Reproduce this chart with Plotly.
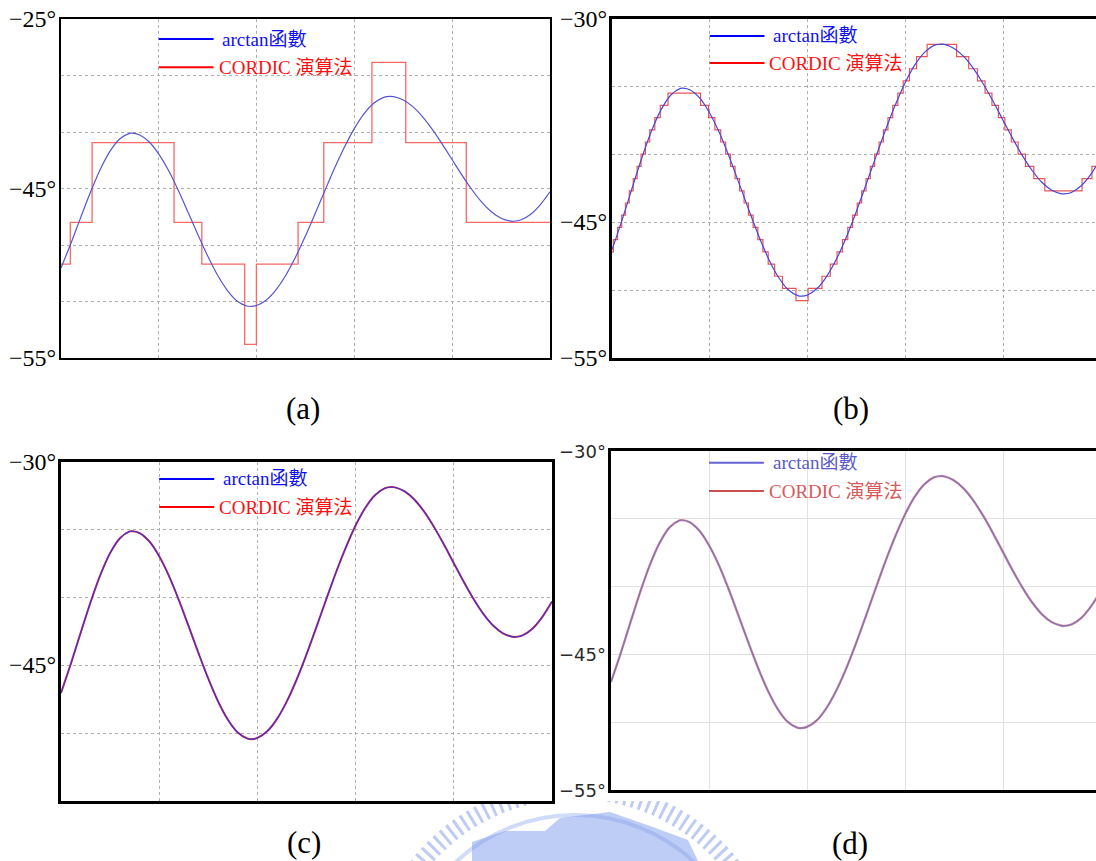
import plotly.graph_objects as go

# ---------------- data ----------------
# arctan reference curve: x in grid units (5 vertical grid cells), value in degrees
ARC_U = [0.0, 0.1, 0.2, 0.3, 0.4, 0.5, 0.6, 0.7, 0.726, 0.8, 0.9, 1.0, 1.1, 1.2, 1.3,
         1.4, 1.5, 1.6, 1.7, 1.8, 1.9, 1.94, 2.0, 2.1, 2.2, 2.3, 2.4, 2.5, 2.6, 2.7,
         2.8, 2.9, 3.0, 3.1, 3.2, 3.3, 3.363, 3.4, 3.5, 3.6, 3.7, 3.8, 3.9, 4.0, 4.1,
         4.2, 4.3, 4.4, 4.5, 4.6, 4.625, 4.7, 4.8, 4.9, 5.0]
ARC_DEG = [-47.03, -44.89, -42.60, -40.36, -38.34, -36.72, -35.62, -35.12, -35.10,
           -35.24, -35.86, -36.95, -38.41, -40.18, -42.12, -44.09, -45.98, -47.66,
           -49.01, -49.95, -50.40, -50.44, -50.35, -49.86, -48.94, -47.65, -46.04,
           -44.19, -42.19, -40.15, -38.15, -36.31, -34.68, -33.37, -32.44, -31.93,
           -31.85, -31.87, -32.17, -32.78, -33.68, -34.81, -36.09, -37.46, -38.82,
           -40.09, -41.19, -42.06, -42.63, -42.89, -42.90, -42.79, -42.30, -41.44, -40.29]

# (a) coarse CORDIC staircase
A_STEP_X = [0.0, 0.095, 0.318, 1.156, 1.44, 1.878, 1.998, 2.424, 2.687, 3.179, 3.525, 4.144, 5.0]
A_STEP_DEG = [-46.7, -43.0, -35.94, -43.0, -46.7, -53.8, -46.7, -43.0, -35.94, -28.83,
              -35.94, -43.0, -43.0]

# (b) finer CORDIC staircase
B_STEP_X = [0.0, 0.014, 0.057, 0.099, 0.138, 0.177, 0.217, 0.257, 0.297, 0.342, 0.386,
            0.438, 0.494, 0.573, 0.906, 0.988, 1.053, 1.112, 1.163, 1.212, 1.259, 1.305,
            1.351, 1.396, 1.444, 1.492, 1.544, 1.598, 1.664, 1.744, 1.882, 2.006, 2.148,
            2.233, 2.302, 2.358, 2.412, 2.461, 2.509, 2.554, 2.599, 2.643, 2.687, 2.732,
            2.777, 2.823, 2.872, 2.924, 2.979, 3.043, 3.116, 3.224, 3.525, 3.649, 3.739,
            3.816, 3.887, 3.953, 4.019, 4.085, 4.155, 4.230, 4.315, 4.428, 4.809, 4.910,
            4.989, 5.0]
B_STEP_DEG = [-47.17, -46.27, -45.37, -44.47, -43.57, -42.67, -41.77, -40.87, -39.97, -39.07,
              -38.17, -37.27, -36.37, -35.47,
              -36.37, -37.27, -38.17, -39.07, -39.97, -40.87, -41.77, -42.67, -43.57, -44.47,
              -45.37, -46.27, -47.17, -48.07, -48.97, -49.87, -50.77,
              -49.87, -48.97, -48.07, -47.17, -46.27, -45.37, -44.47, -43.57, -42.67, -41.77,
              -40.87, -39.97, -39.07, -38.17, -37.27, -36.37, -35.47, -34.57, -33.67, -32.77,
              -31.87,
              -32.77, -33.67, -34.57, -35.47, -36.37, -37.27, -38.17, -39.07, -39.97, -40.87,
              -41.77, -42.67,
              -41.77, -40.87, -39.97, -39.97]

# (c), (d) fine CORDIC result: coincides with the arctan curve
C_CORDIC = ARC_DEG
D_CORDIC = ARC_DEG

GRID_X = [1, 2, 3, 4]
A_GRID_Y = [-25, -30, -35, -40, -45, -50, -55]
B_GRID_Y = [-30, -35, -40, -45, -50, -55]
# printed y labels (value position on the axis, text as printed)
A_LABEL_POS = [-25, -40, -55]
A_LABEL_TXT = ["\u221225\u00b0", "\u221245\u00b0", "\u221255\u00b0"]
B_LABEL_POS = [-30, -45, -55]
B_LABEL_TXT = ["\u221230\u00b0", "\u221245\u00b0", "\u221255\u00b0"]
C_LABEL_POS = [-30, -45]
C_LABEL_TXT = ["\u221230\u00b0", "\u221245\u00b0"]

LEG_BLUE = "arctan函數"
LEG_RED = "CORDIC 演算法"
CAPTIONS = ["(a)", "(b)", "(c)", "(d)"]

# ---------------- figure ----------------
W, H = 1096, 861
SERIF = "Liberation Serif, Noto Sans CJK TC, serif"
SANS = "DejaVu Sans, sans-serif"

fig = go.Figure()


def px_x(p):
    return p / W


def px_y(p):
    return 1 - p / H


# panel boxes in pixels: left, right, top, bottom
PANELS = {
    "a": dict(l=61, r=550, t=19, b=358),
    "b": dict(l=612, r=W, t=19, b=358),
    "c": dict(l=61, r=552, t=462, b=801),
    "d": dict(l=611, r=W, t=451, b=790),
}

# traces
fig.add_trace(go.Scatter(x=A_STEP_X, y=A_STEP_DEG, mode="lines", line_shape="hv",
                         line=dict(color="rgb(245,105,105)", width=1.3),
                         xaxis="x", yaxis="y", name=LEG_RED))
fig.add_trace(go.Scatter(x=ARC_U, y=ARC_DEG, mode="lines", line_shape="spline",
                         line=dict(color="rgb(85,85,210)", width=1.2, smoothing=0.8),
                         xaxis="x", yaxis="y", name=LEG_BLUE))

fig.add_trace(go.Scatter(x=B_STEP_X, y=B_STEP_DEG, mode="lines", line_shape="hv",
                         line=dict(color="rgb(235,85,85)", width=1.2),
                         xaxis="x2", yaxis="y2", name=LEG_RED))
fig.add_trace(go.Scatter(x=ARC_U, y=ARC_DEG, mode="lines", line_shape="spline",
                         line=dict(color="rgb(70,70,220)", width=1.2, smoothing=0.8),
                         xaxis="x2", yaxis="y2", name=LEG_BLUE))

fig.add_trace(go.Scatter(x=ARC_U, y=C_CORDIC, mode="lines", line_shape="spline",
                         line=dict(color="rgb(235,60,60)", width=2.0, smoothing=0.8),
                         xaxis="x3", yaxis="y3", name=LEG_RED))
fig.add_trace(go.Scatter(x=ARC_U, y=ARC_DEG, mode="lines", line_shape="spline",
                         line=dict(color="rgba(50,40,220,0.85)", width=1.3, smoothing=0.8),
                         xaxis="x3", yaxis="y3", name=LEG_BLUE))

fig.add_trace(go.Scatter(x=ARC_U, y=D_CORDIC, mode="lines", line_shape="spline",
                         line=dict(color="rgba(200,120,140,0.75)", width=2.4, smoothing=0.8),
                         xaxis="x4", yaxis="y4", name=LEG_RED))
fig.add_trace(go.Scatter(x=ARC_U, y=ARC_DEG, mode="lines", line_shape="spline",
                         line=dict(color="rgba(120,100,175,0.8)", width=1.4, smoothing=0.8),
                         xaxis="x4", yaxis="y4", name=LEG_BLUE))


def xaxis(p, rng, lw, gridcolor, griddash, anchor):
    return dict(domain=[px_x(p["l"]), min(1.0, px_x(p["r"]))], range=rng, anchor=anchor,
                tickmode="array", tickvals=GRID_X, showticklabels=False, ticks="",
                showgrid=True, gridcolor=gridcolor, griddash=griddash, gridwidth=1,
                showline=True, linecolor="black", linewidth=lw, mirror=True,
                zeroline=False, fixedrange=True, automargin=False)


def yaxis(p, rng, tv, lw, mirror, gridcolor, griddash, anchor):
    return dict(domain=[px_y(p["b"]), px_y(p["t"])], range=rng, anchor=anchor,
                tickmode="array", tickvals=tv, showticklabels=False, ticks="",
                showgrid=True, gridcolor=gridcolor, griddash=griddash, gridwidth=1,
                showline=True, linecolor="black", linewidth=lw, mirror=mirror,
                zeroline=False, fixedrange=True, automargin=False)


gdot = "rgb(175,175,175)"
gsol = "rgb(226,226,226)"

xr_b = [0, (W - PANELS["b"]["l"]) / 97.75]
xr_d = [0, (W - PANELS["d"]["l"]) / 98.0]

fig.update_layout(
    template="none",
    width=W, height=H, margin=dict(l=0, r=0, t=0, b=0, pad=0, autoexpand=False),
    paper_bgcolor="white", plot_bgcolor="white", showlegend=False,
    xaxis=xaxis(PANELS["a"], [0, 5], 2, gdot, "dot", "y"),
    yaxis=yaxis(PANELS["a"], [-55, -25], A_GRID_Y, 2, True, gdot, "dot", "x"),
    xaxis2=xaxis(PANELS["b"], xr_b, 3, gdot, "dot", "y2"),
    yaxis2=yaxis(PANELS["b"], [-55, -30], B_GRID_Y, 3, False, gdot, "dot", "x2"),
    xaxis3=xaxis(PANELS["c"], [0, 5], 3, gdot, "dot", "y3"),
    yaxis3=yaxis(PANELS["c"], [-55, -30], B_GRID_Y, 3, True, gdot, "dot", "x3"),
    xaxis4=xaxis(PANELS["d"], xr_d, 3, gsol, "solid", "y4"),
    yaxis4=yaxis(PANELS["d"], [-55, -30], B_GRID_Y, 3, False, gsol, "solid", "x4"),
)

# y labels, drawn at their axis values just left of each frame
LABELS = [
    ("a", "y", A_LABEL_POS, A_LABEL_TXT, dict(family=SERIF, size=24, color="black")),
    ("b", "y2", B_LABEL_POS, B_LABEL_TXT, dict(family=SERIF, size=24, color="black")),
    ("c", "y3", C_LABEL_POS, C_LABEL_TXT, dict(family=SERIF, size=24, color="black")),
    ("d", "y4", B_LABEL_POS, B_LABEL_TXT, dict(family=SANS, size=18, color="#2a2a2a")),
]
for key, yref, pos, txt, font in LABELS:
    for v, t in zip(pos, txt):
        fig.add_annotation(xref="paper", yref=yref, x=px_x(PANELS[key]["l"] - 3), y=v,
                           text=t, showarrow=False, xanchor="right", yanchor="middle",
                           font=font)

# faint watermark emblem at the bottom centre (mostly hidden behind the panels)
WM = "rgba(125,152,232,0.5)"
fig.add_shape(type="circle", xref="paper", yref="paper", layer="below",
              x0=px_x(375), x1=px_x(775), y0=px_y(1190), y1=px_y(790),
              line=dict(color=WM, width=18, dash="3px,5px"), fillcolor="rgba(0,0,0,0)")
fig.add_shape(type="circle", xref="paper", yref="paper", layer="below",
              x0=px_x(400), x1=px_x(750), y0=px_y(1165), y1=px_y(815),
              line=dict(color="rgba(150,175,238,0.45)", width=4), fillcolor="rgba(0,0,0,0)")
bld = [(472, 861), (472, 842), (505, 831), (545, 831), (560, 818), (610, 812),
       (650, 826), (688, 840), (698, 861)]
path = "M " + " L ".join(f"{px_x(x):.5f},{px_y(y):.5f}" for x, y in bld) + " Z"
fig.add_shape(type="path", path=path, xref="paper", yref="paper", layer="below",
              fillcolor="rgba(125,155,235,0.5)", line=dict(width=0))
# white backing of panel (d)
fig.add_shape(type="rect", xref="paper", yref="paper", layer="below",
              x0=px_x(549), x1=1.0, y0=px_y(801), y1=px_y(440),
              fillcolor="white", line=dict(width=0))
# white backing of panel (c)
fig.add_shape(type="rect", xref="paper", yref="paper", layer="below",
              x0=px_x(0), x1=px_x(553), y0=px_y(803), y1=px_y(445),
              fillcolor="white", line=dict(width=0))

# in-plot legends (line keys + labels)
LEG = [
    ("x", "y domain", 0.941, 0.858, "blue", "red", "#1010f0", "#ff1010"),
    ("x2", "y2 domain", 0.950, 0.870, "blue", "red", "#1010f0", "#ff1010"),
    ("x3", "y3 domain", 0.950, 0.867, "blue", "red", "#1010f0", "#ff1010"),
    ("x4", "y4 domain", 0.965, 0.882, "rgb(100,100,210)", "rgb(200,80,80)",
     "rgb(90,90,200)", "rgb(215,90,90)"),
]
for xr, yr, yb, yrd, cb, cr, tb, tr in LEG:
    fig.add_shape(type="line", xref=xr, yref=yr, x0=1.0, x1=1.56, y0=yb, y1=yb,
                  line=dict(color=cb, width=2))
    fig.add_shape(type="line", xref=xr, yref=yr, x0=1.0, x1=1.56, y0=yrd, y1=yrd,
                  line=dict(color=cr, width=2))
    fig.add_annotation(xref=xr, yref=yr, x=1.63, y=yb, text=LEG_BLUE, showarrow=False,
                       xanchor="left", yanchor="middle",
                       font=dict(family=SERIF, size=19, color=tb))
    fig.add_annotation(xref=xr, yref=yr, x=1.59, y=yrd, text=LEG_RED, showarrow=False,
                       xanchor="left", yanchor="middle",
                       font=dict(family=SERIF, size=19, color=tr))

# captions
CAP_POS = [(303, 408), (851, 408), (304, 842), (850, 843)]
for cap, (cx, cy) in zip(CAPTIONS, CAP_POS):
    fig.add_annotation(xref="paper", yref="paper", x=px_x(cx), y=px_y(cy), text=cap,
                       showarrow=False, xanchor="center", yanchor="middle",
                       font=dict(family=SERIF, size=31, color="black"))

fig.write_html("out.html")
